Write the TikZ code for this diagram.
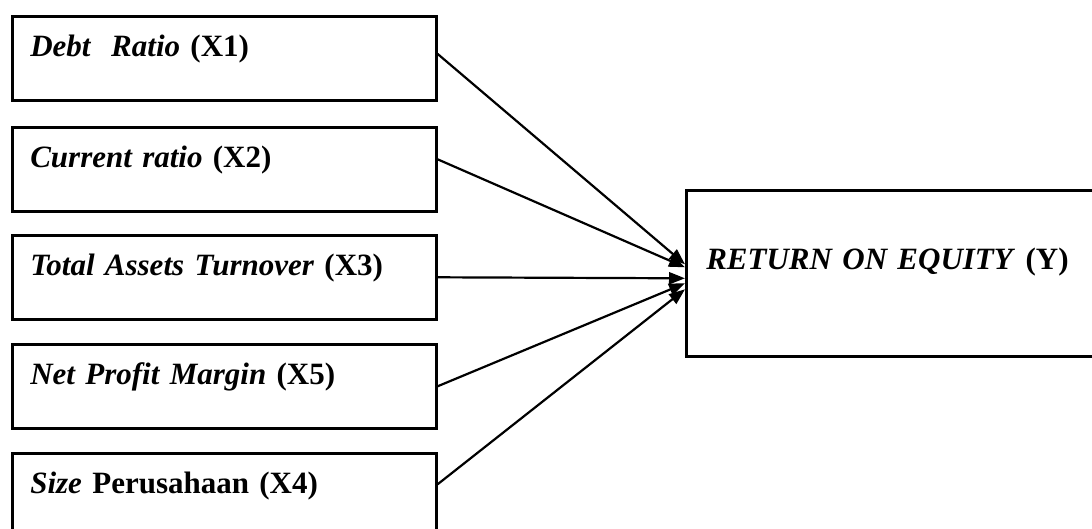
\documentclass[tikz,border=0pt]{standalone}
\usepackage{fontspec}
\setmainfont{Liberation Serif}
\usetikzlibrary{arrows.meta}

\begin{document}
\begin{tikzpicture}[x=0.5pt,y=-0.5pt]
			%\draw[help lines] (0,0) grid (1092,529);
			\useasboundingbox (0,0) rectangle (1092,529);
			\tikzset{
			varbox/.style = {draw, line width=1.3pt, anchor=north west,
				inner xsep=9pt, inner ysep=0pt, text width=194pt, align=left,
				text height=20pt, text depth=22pt,
				font=\fontsize{15.5}{18.5}\selectfont},
			roebox/.style = {varbox, text width=200pt, inner xsep=10pt,
				text height=39.5pt, text depth=43.5pt},
			link/.style = {line width=1.1pt, -{Triangle[length=8pt,width=6pt]}}}
			
			\node[varbox] (x1) at (11,15) {\textbf{\textit{Debt\ \ Ratio}} \textbf{(X1)}};
			\node[varbox] (x2) at (11,126) {\textbf{\textit{Current ratio}} \textbf{(X2)}};
			\node[varbox] (x3) at (11,234) {\textbf{\textit{Total Assets Turnover}} \textbf{(X3)}};
			\node[varbox] (x5) at (11,343) {\textbf{\textit{Net Profit Margin}} \textbf{(X5)}};
			\node[varbox] (x4) at (11,452) {\textbf{\textit{Size} Perusahaan (X4)}};
			
			\node[roebox] (roe) at (685,189) {\textbf{\textit{RETURN ON EQUITY}} \textbf{(Y)}};
			
			\draw[link] ([yshift=2.2pt]x1.east) -- ([yshift=4.5pt]roe.west);
			\draw[link] ([yshift=5pt]x2.east) -- ([yshift=3pt]roe.west);
			\draw[link] (x3.east) -- ([yshift=-2.5pt]roe.west);
			\draw[link] (x5.east) -- ([yshift=-5pt]roe.west);
			\draw[link] ([yshift=5.5pt]x4.east) -- ([yshift=-8pt]roe.west);
			\end{tikzpicture}
\end{document}
